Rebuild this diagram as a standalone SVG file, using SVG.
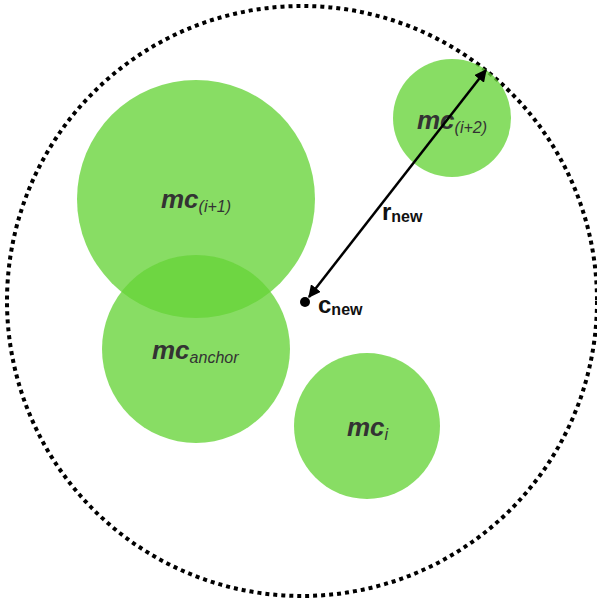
<svg xmlns="http://www.w3.org/2000/svg" width="597" height="605" viewBox="0 0 597 605">
<style>
.mc{fill:#66d338;fill-opacity:0.78;stroke:none}
.lbl{font-family:"Liberation Sans",Arial,sans-serif;font-weight:bold;font-style:italic;fill:#333}
.big{font-size:26px}
.sub{font-size:16px;font-weight:normal}
.var{font-family:"Liberation Sans",Arial,sans-serif;font-weight:bold;fill:#111}
</style>
<defs>
<marker id="ah" viewBox="0 0 10 10" refX="9" refY="5" markerWidth="5" markerHeight="5" orient="auto-start-reverse" markerUnits="strokeWidth">
<path d="M0,0 L10,5 L0,10 Z" fill="#000"/>
</marker>
</defs>
<rect width="597" height="605" fill="#fff"/>
<circle id="boundary" cx="302" cy="301" r="295" fill="none" stroke="#000" stroke-width="4" stroke-dasharray="4 4"/>
<g id="mc_i1"><circle class="mc" cx="196" cy="199" r="119"/>
<text class="lbl" x="161" y="208"><tspan class="big">mc</tspan><tspan class="sub" dy="4">(i+1)</tspan></text></g>
<g id="mc_anchor"><circle class="mc" cx="196" cy="349" r="94"/>
<text class="lbl" x="152" y="359"><tspan class="big">mc</tspan><tspan class="sub" dy="4">anchor</tspan></text></g>
<g id="mc_i2"><circle class="mc" cx="452" cy="118" r="59"/>
<text class="lbl" x="417" y="129"><tspan class="big">mc</tspan><tspan class="sub" dy="4">(i+2)</tspan></text></g>
<g id="mc_i"><circle class="mc" cx="367" cy="426" r="73"/>
<text class="lbl" x="347" y="436"><tspan class="big">mc</tspan><tspan class="sub" dy="4">i</tspan></text></g>
<g id="connectors">
<line x1="309" y1="297" x2="486" y2="70" stroke="#000" stroke-width="2.5" marker-start="url(#ah)" marker-end="url(#ah)"/>
</g>
<g id="c_new"><circle cx="305" cy="302" r="5" fill="#000"/>
<text class="var" x="318" y="313"><tspan font-size="24">c</tspan><tspan font-size="16" dy="2">new</tspan></text></g>
<g id="r_new"><text class="var" x="382" y="220"><tspan font-size="24">r</tspan><tspan font-size="16" dy="2">new</tspan></text></g>
</svg>
